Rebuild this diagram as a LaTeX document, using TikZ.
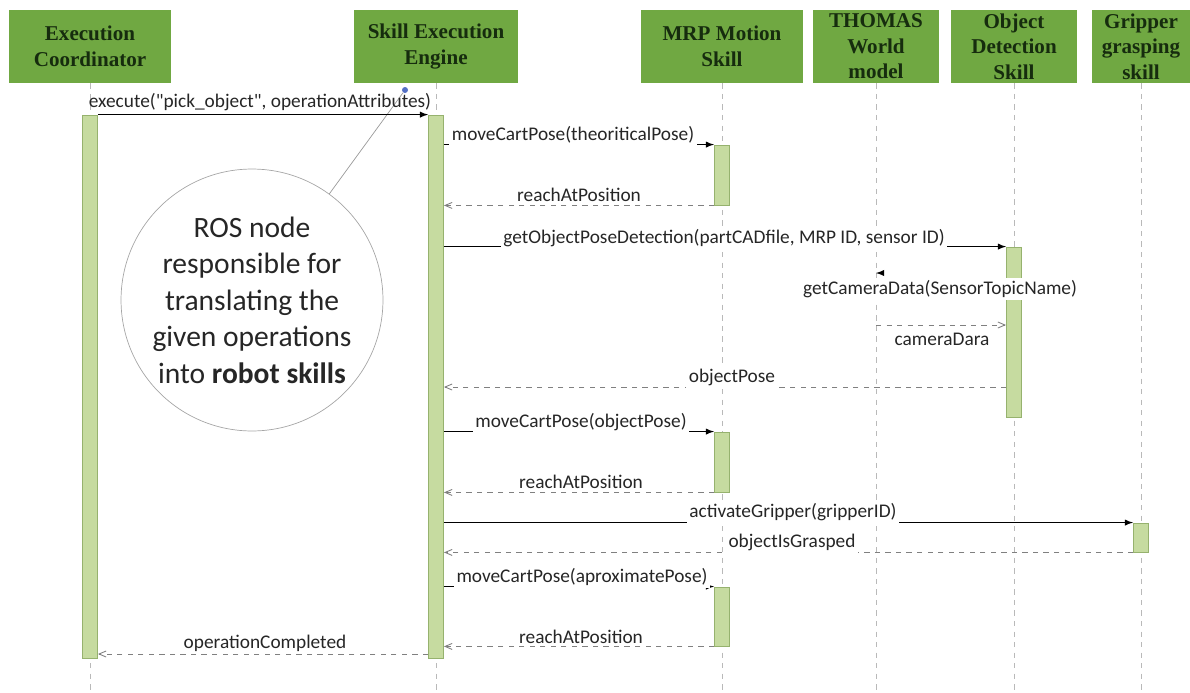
\documentclass[tikz,border=0pt]{standalone}
\usepackage{fontspec}
\setmainfont{Carlito}
\newfontfamily\headfont{Liberation Serif}
\usetikzlibrary{arrows}
\definecolor{headgreen}{RGB}{112,168,66}
\definecolor{headtext}{RGB}{22,44,14}
\definecolor{barfill}{RGB}{198,219,160}
\definecolor{bardraw}{RGB}{150,178,110}
\definecolor{lifegray}{RGB}{185,185,185}
\definecolor{pinblue}{RGB}{84,112,196}
\tikzset{
	head/.style={fill=headgreen, draw=none, minimum height=1.46cm, inner sep=1pt, align=center, text=headtext, font=\headfont\bfseries\fontsize{12}{14.5}\selectfont},
	actbar/.style={fill=barfill, draw=bardraw, line width=0.5pt, minimum width=0.3cm, inner sep=0pt},
	lifeline/.style={draw=lifegray, dashed, line width=0.4pt},
	call/.style={->, >=latex, line width=0.6pt},
	reply/.style={-angle 45, dashed, draw=gray, line width=0.5pt},
	msg/.style={fill=white, inner sep=1.5pt, font=\fontsize{11}{13}\selectfont, text=black!85}
}
\begin{document}
\begin{tikzpicture}[x=0.02cm, y=-0.02cm]
	\useasboundingbox (0,0) rectangle (1190,693);

	% lifeline heads
	\node[head, minimum width=3.26cm] (ec) at (90,46.5) {Execution\\Coordinator};
	\node[head, minimum width=3.28cm] (see) at (436,46.5) {Skill Execution\\Engine};
	\node[head, minimum width=3.26cm] (mrp) at (722,46.5) {MRP Motion\\Skill};
	\node[head, minimum width=2.54cm] (thomas) at (876,46.5) {THOMAS\\World\\model};
	\node[head, minimum width=2.52cm] (ods) at (1014,46.5) {Object\\Detection\\Skill};
	\node[head, minimum width=1.96cm] (grip) at (1141,46.5) {Gripper\\grasping\\skill};

	\coordinate (bottom) at (0,693);
	\foreach \n in {ec,see,mrp,thomas,ods,grip}
		\draw[lifeline] (\n.south) -- (\n.south |- bottom);

	% activations
	\node[actbar, minimum height=10.86cm] (bec) at (90,386.5) {};
	\node[actbar, minimum height=10.86cm] (bsee) at (436,386.5) {};
	\node[actbar, minimum height=1.2cm] (bm1) at (722,175) {};
	\node[actbar, minimum height=1.2cm] (bm2) at (722,462) {};
	\node[actbar, minimum height=1.18cm] (bm3) at (722,616.5) {};
	\node[actbar, minimum height=3.4cm] (bods) at (1014,332) {};
	\node[actbar, minimum height=0.58cm] (bgrip) at (1141,537.5) {};

	% note
	\node[draw=gray!70, line width=0.4pt, circle, minimum size=5.24cm, inner sep=0pt, align=center, font=\fontsize{16.8}{20.8}\selectfont, text=black!85] (ros) at (252,300) {ROS node\\responsible for\\translating the\\given operations\\into \textbf{robot skills}};
	\node[circle, fill=pinblue, inner sep=0pt, minimum size=0.12cm] (pin) at (405,90) {};
	\draw[gray!80, line width=0.4pt] (ros) -- (pin);

	% calls and replies
	\draw[call] (bec.north east) -- (bsee.north west);
	\node[msg, fill=none] (lexec) at (260,102) {execute(\textquotedbl pick\_object\textquotedbl, operationAttributes)};

	\draw[call] (bsee.east |- bm1.north) -- (bm1.north west);
	\node[msg] (lmove1) at (573,135) {moveCartPose(theoriticalPose)};
	\draw[reply] (bm1.south west) -- (bsee.east |- bm1.south);
	\node[msg] (lreach1) at (579,195) {reachAtPosition};

	\draw[call] (bsee.east |- bods.north) -- (bods.north west);
	\node[msg] (lgetpose) at (724,238) {getObjectPoseDetection(partCADfile, MRP ID, sensor ID)};

	\coordinate (ycam) at (0,273);
	\draw[call] ([xshift=0.15cm]thomas.south |- ycam) -- (thomas.south |- ycam);
	\node[msg] (lcam) at (940,289) {getCameraData(SensorTopicName)};
	\coordinate (ydata) at (0,325);
	\draw[reply] (thomas.south |- ydata) -- (bods.west |- ydata);
	\node[msg, fill=none] (ldata) at (942,339) {cameraDara};

	\coordinate (ypose) at (0,387);
	\draw[reply] (bods.west |- ypose) -- (bsee.east |- ypose);
	\node[msg] (lpose) at (732,377) {objectPose};

	\draw[call] (bsee.east |- bm2.north) -- (bm2.north west);
	\node[msg] (lmove2) at (581,422) {moveCartPose(objectPose)};
	\draw[reply] (bm2.south west) -- (bsee.east |- bm2.south);
	\node[msg] (lreach2) at (581,482) {reachAtPosition};

	\draw[call] (bsee.east |- bgrip.north) -- (bgrip.north west);
	\node[msg] (lgrip) at (793,512) {activateGripper(gripperID)};
	\draw[reply] (bgrip.south west) -- (bsee.east |- bgrip.south);
	\node[msg] (lgrasped) at (792,542) {objectIsGrasped};

	\draw[call] (bsee.east |- bm3.north) -- (bm3.north west);
	\node[msg] (lmove3) at (582,577) {moveCartPose(aproximatePose)};
	\draw[reply] (bm3.south west) -- (bsee.east |- bm3.south);
	\node[msg] (lreach3) at (581,637) {reachAtPosition};

	\coordinate (ydone) at (0,654);
	\draw[reply] (bsee.west |- ydone) -- (bec.east |- ydone);
	\node[msg] (ldone) at (265,643) {operationCompleted};

\end{tikzpicture}
\end{document}
